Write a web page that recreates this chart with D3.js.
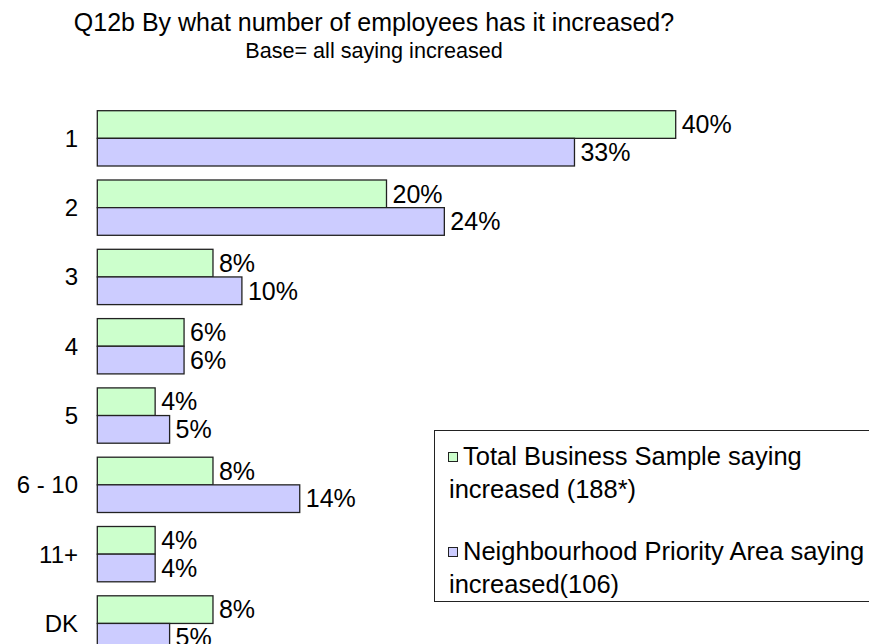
<!DOCTYPE html>
<html>
<head>
<meta charset="utf-8">
<script src="https://cdn.jsdelivr.net/npm/d3@7"></script>
<style>
  html, body { margin: 0; padding: 0; background: #fff; }
  svg { display: block; font-family: "Liberation Sans", Arial, sans-serif; }
</style>
</head>
<body>
<svg id="chart" width="869" height="644"></svg>
<script>
// Categories (number of employees added) and the two sample series, in %
const categories = ["1", "2", "3", "4", "5", "6 - 10", "11+", "DK"];
const totalSample = [40, 20, 8, 6, 4, 8, 4, 8];
const npaSample   = [33, 24, 10, 6, 5, 14, 4, 5];

const seriesKeys   = ["total", "npa"];
const seriesNames  = [
  ["Total Business Sample saying", "increased (188*)"],
  ["Neighbourhood Priority Area saying", "increased(106)"]
];
const seriesColors = ["#ccffcc", "#ccccff"];

const titleText    = "Q12b By what number of employees has it increased?";
const subtitleText = "Base= all saying increased";

const rows = categories.map((c, i) => ({ cat: c, total: totalSample[i], npa: npaSample[i] }));

const svg = d3.select("#chart");
svg.append("rect").attr("width", 869).attr("height", 644).attr("fill", "#fff");

// Scales
const x = d3.scaleLinear().domain([0, 40]).range([97.3, 675.7]);
const y0 = d3.scaleBand()
  .domain(categories)
  .range([110.7, 651.1])
  .paddingInner(0.202)
  .paddingOuter(0);
const y1 = d3.scaleBand().domain(seriesKeys).range([0, y0.bandwidth()]);
const color = d3.scaleOrdinal().domain(seriesKeys).range(seriesColors);

// Titles
svg.append("text")
  .attr("x", 374).attr("y", 31)
  .attr("text-anchor", "middle")
  .attr("font-size", 25)
  .text(titleText);
svg.append("text")
  .attr("x", 374).attr("y", 58)
  .attr("text-anchor", "middle")
  .attr("font-size", 21.6)
  .text(subtitleText);

// Bars
const groups = svg.append("g").selectAll("g")
  .data(rows)
  .join("g")
  .attr("transform", d => `translate(0,${y0(d.cat)})`);

groups.selectAll("rect")
  .data(d => seriesKeys.map(k => ({ key: k, value: d[k] })))
  .join("rect")
  .attr("x", x(0))
  .attr("y", d => y1(d.key))
  .attr("width", d => x(d.value) - x(0))
  .attr("height", y1.bandwidth())
  .attr("fill", d => color(d.key))
  .attr("stroke", "#222")
  .attr("stroke-width", 1.3);

// Value labels
groups.selectAll("text")
  .data(d => seriesKeys.map(k => ({ key: k, value: d[k] })))
  .join("text")
  .attr("x", d => x(d.value) + 6)
  .attr("y", d => y1(d.key) + y1.bandwidth() / 2)
  .attr("dy", "0.35em")
  .attr("font-size", 25)
  .text(d => d.value + "%");

// Category axis labels
const yAxis = d3.axisLeft(y0).tickSize(0).tickPadding(0);
const axisG = svg.append("g")
  .attr("transform", "translate(78,0)")
  .call(yAxis);
axisG.select(".domain").remove();
axisG.selectAll("text")
  .attr("font-size", 24)
  .attr("font-family", "\"Liberation Sans\", Arial, sans-serif")
  .attr("fill", "#000")
  .attr("dy", "0.35em");

// Legend
const legend = svg.append("g");
legend.append("rect")
  .attr("x", 434.5).attr("y", 430.5)
  .attr("width", 460).attr("height", 171)
  .attr("fill", "#fff")
  .attr("stroke", "#222")
  .attr("stroke-width", 1);

const legendItemY = [448, 543];
seriesKeys.forEach((k, i) => {
  const top = legendItemY[i];
  legend.append("rect")
    .attr("x", 448.5).attr("y", top + 4.5)
    .attr("width", 9).attr("height", 9)
    .attr("fill", color(k))
    .attr("stroke", "#222")
    .attr("stroke-width", 1);
  legend.append("text")
    .attr("x", 463).attr("y", top + 17)
    .attr("font-size", 25.5)
    .text(seriesNames[i][0]);
  legend.append("text")
    .attr("x", 449).attr("y", top + 50)
    .attr("font-size", 25.5)
    .text(seriesNames[i][1]);
});
</script>
</body>
</html>
